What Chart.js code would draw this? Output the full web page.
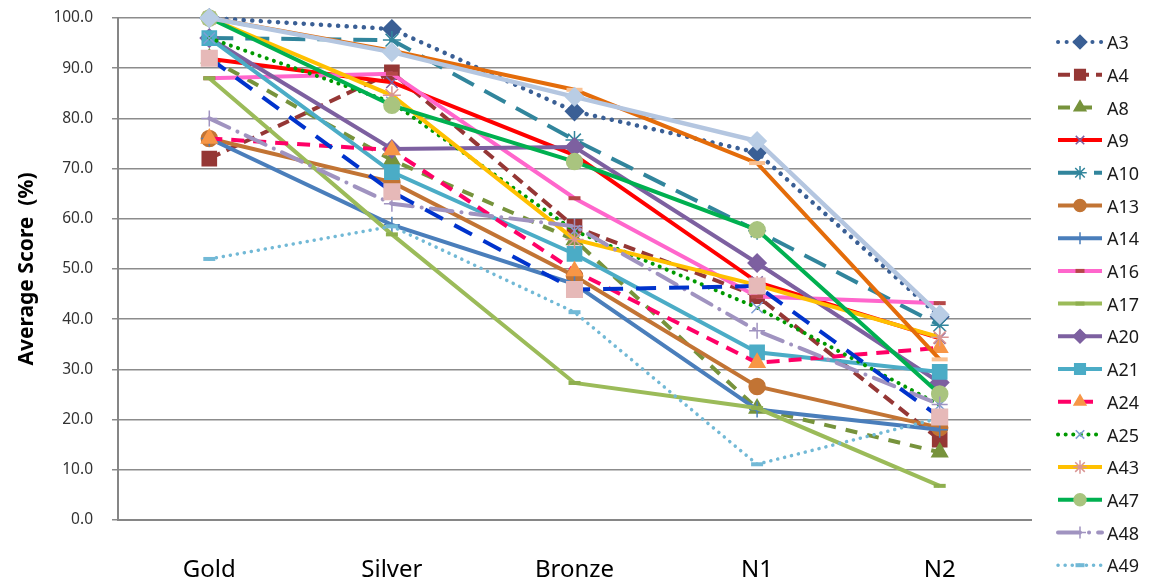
<!DOCTYPE html>
<html lang="en">
<head>
<meta charset="UTF-8">
<title>Average Score</title>
<script src="https://cdn.jsdelivr.net/npm/chart.js@4.4.1/dist/chart.umd.min.js"></script>
<style>
  html, body { margin: 0; padding: 0; background: #fff; }
  #wrap { width: 1156px; height: 585px; }
</style>
</head>
<body>
<div id="wrap"><canvas id="myChart"></canvas></div>
<script>
// categories on the x axis
const categories = ['Gold', 'Silver', 'Bronze', 'N1', 'N2'];

// series values
const a3  = [100.0, 97.8, 81.4, 73.2, 40.5];
const a4  = [72.0, 89.2, 58.4, 44.6, 16.0];
const a8  = [92.0, 71.7, 55.8, 22.2, 13.5];
const a9  = [91.9, 87.2, 72.7, 47.4, 36.2];
const a10 = [96.0, 95.6, 75.7, 57.6, 38.8];
const a13 = [76.0, 67.3, 48.6, 26.6, 18.4];
const a14 = [76.0, 58.8, 47.0, 22.0, 18.0];
const a16 = [88.0, 88.9, 64.1, 44.5, 43.2];
const a17 = [88.0, 56.9, 27.3, 22.3, 6.8];
const a20 = [96.0, 73.9, 74.3, 51.2, 27.4];
const a21 = [96.0, 69.3, 53.0, 33.4, 29.5];
const a24 = [76.0, 73.7, 49.6, 31.3, 34.3];
const a25 = [96.0, 83.2, 57.6, 42.3, 22.9];
const a43 = [100.0, 84.6, 55.9, 46.8, 36.4];
const a47 = [100.0, 82.6, 71.4, 57.8, 25.1];
const a48 = [80.0, 63.0, 58.5, 37.7, 23.0];
const a49 = [52.0, 58.5, 41.4, 11.1, 20.3];
// three more series are drawn but fall off the bottom of the legend
const a50 = [100.0, 93.5, 85.7, 71.1, 32.0];
const a51 = [100.0, 93.2, 84.3, 75.5, 40.9];
const a52 = [92.0, 65.4, 45.9, 46.6, 20.5];

const yMin = 0, yMax = 100, yStep = 10;
const legendCount = 17;

// name, values, look
const series = [
  ['A3',  a3,  {c: '#3A5F95', dash: [0.1, 8.5], cap: 'round', w: 4.5, ps: 'rectRot', pc: '#3A5F95', r: 9}],
  ['A4',  a4,  {c: '#953735', dash: [12, 7], w: 4, ps: 'rect', pc: '#953735', r: 10}],
  ['A8',  a8,  {c: '#77933C', dash: [12, 10], w: 4, ps: 'triangle', pc: '#77933C', r: 9}],
  ['A9',  a9,  {c: '#FF0000', w: 4, ps: 'crossRot', pc: '#7F5FA0', r: 8}],
  ['A10', a10, {c: '#31859C', dash: [24, 12], w: 4, ps: 'star', pc: '#31859C', r: 9}],
  ['A13', a13, {c: '#C27434', w: 4, ps: 'circle', pc: '#C27434', r: 8}],
  ['A14', a14, {c: '#4A7EBB', w: 4, ps: 'cross', pc: '#4A7EBB', r: 8}],
  ['A16', a16, {c: '#FF66CC', w: 4, ps: 'line', pc: '#B54848', r: 6}],
  ['A17', a17, {c: '#9BBB59', w: 4, ps: 'line', pc: '#8EAF4E', r: 6}],
  ['A20', a20, {c: '#7D60A0', w: 4, ps: 'rectRot', pc: '#7D60A0', r: 9}],
  ['A21', a21, {c: '#4BACC6', w: 4, ps: 'rect', pc: '#4BACC6', r: 10}],
  ['A24', a24, {c: '#FF0066', dash: [13, 9], w: 4, ps: 'triangle', pc: '#F79646', r: 9}],
  ['A25', a25, {c: '#009900', dash: [0.1, 7.5], cap: 'round', w: 4, ps: 'crossRot', pc: '#7F9FD5', r: 8}],
  ['A43', a43, {c: '#FFC000', w: 4, ps: 'star', pc: '#D99694', r: 9}],
  ['A47', a47, {c: '#00B050', w: 4, ps: 'circle', pc: '#A9C47F', r: 8}],
  ['A48', a48, {c: '#A093C0', dash: [22, 9, 0.1, 9], cap: 'round', w: 4, ps: 'cross', pc: '#A093C0', r: 8}],
  ['A49', a49, {c: '#72B9D6', dash: [0.1, 7], cap: 'round', w: 3.5, ps: 'line', pc: '#72B9D6', r: 6}],
  ['A50', a50, {c: '#E46C0A', w: 4, ps: 'line', pc: '#FAC090', r: 8}],
  ['A51', a51, {c: '#B4C6E0', w: 4.5, ps: 'rectRot', pc: '#B9CDE5', r: 9}],
  ['A52', a52, {c: '#0033CC', dash: [20, 13], w: 4, ps: 'rect', pc: '#E6B9B8', r: 11}]
];

const datasets = series.map(([name, vals, s], i) => ({
  label: name,
  data: vals,
  borderColor: s.c,
  borderWidth: s.w,
  borderDash: s.dash || [],
  borderCapStyle: s.cap || 'butt',
  tension: 0,
  fill: false,
  clip: false,
  pointStyle: s.ps,
  pointRadius: s.r,
  pointHoverRadius: s.r,
  pointBackgroundColor: s.pc,
  pointBorderColor: s.pc,
  pointBorderWidth: s.ps === 'line' ? 4 : 1.5,
  order: -i
}));

// legend drawn by hand so each entry shows line + marker like the original
const legendBox = {
  id: 'legendBox',
  afterDraw(chart) {
    const ctx = chart.ctx;
    chart.data.datasets.forEach((ds, i) => {
      if (i >= legendCount) return;
      const y = 42 + i * 32.7;
      ctx.save();
      ctx.strokeStyle = ds.borderColor;
      ctx.lineWidth = Math.min(ds.borderWidth, 4);
      ctx.setLineDash(ds.borderDash);
      ctx.lineCap = ds.borderCapStyle;
      ctx.beginPath();
      ctx.moveTo(1058, y);
      ctx.lineTo(1102, y);
      ctx.stroke();
      ctx.setLineDash([]);
      ctx.lineCap = 'butt';
      ctx.fillStyle = ds.pointBackgroundColor;
      ctx.strokeStyle = ds.pointBorderColor;
      ctx.lineWidth = ds.pointBorderWidth;
      Chart.helpers.drawPoint(ctx, {
        pointStyle: ds.pointStyle, radius: ds.pointRadius * 0.75, rotation: 0, borderWidth: ds.pointBorderWidth
      }, 1080, y);
      ctx.fillStyle = '#1a1a1a';
      ctx.font = '18px "Noto Sans"';
      ctx.textBaseline = 'middle';
      ctx.fillText(ds.label, 1107, y + 2);
      ctx.restore();
    });
  }
};

new Chart('myChart', {
  type: 'line',
  data: { labels: categories, datasets },
  plugins: [legendBox],
  options: {
    responsive: true,
    maintainAspectRatio: false,
    devicePixelRatio: 1,
    animation: false,
    layout: { autoPadding: false, padding: { top: 18, right: 125, left: 0, bottom: 0 } },
    plugins: { legend: { display: false }, tooltip: { enabled: false } },
    scales: {
      x: {
        offset: true,
        grid: { display: false, drawTicks: false },
        border: { display: true, color: '#868686', width: 2 },
        ticks: { color: '#000', font: { family: 'Noto Sans', size: 24 }, padding: 36 },
        afterFit(scale) { scale.height = 65; scale.paddingTop = 0; scale.paddingBottom = 0; }
      },
      y: {
        min: yMin, max: yMax,
        grid: { color: '#8C8C8C', lineWidth: 1.5, tickLength: 6, drawTicks: true },
        border: { display: true, color: '#868686', width: 2 },
        ticks: {
          stepSize: yStep, color: '#333', padding: 19,
          font: { family: 'Noto Sans', size: 15.5 },
          callback: v => Number(v).toFixed(1)
        },
        title: {
          display: true, text: 'Average Score  (%)', color: '#000',
          font: { family: 'Noto Sans', size: 21, weight: 'bold' },
          padding: { top: 14, bottom: 0 }
        },
        afterFit(scale) { scale.width = 118; scale.paddingTop = 0; scale.paddingBottom = 0; }
      }
    }
  }
});
</script>
</body>
</html>
